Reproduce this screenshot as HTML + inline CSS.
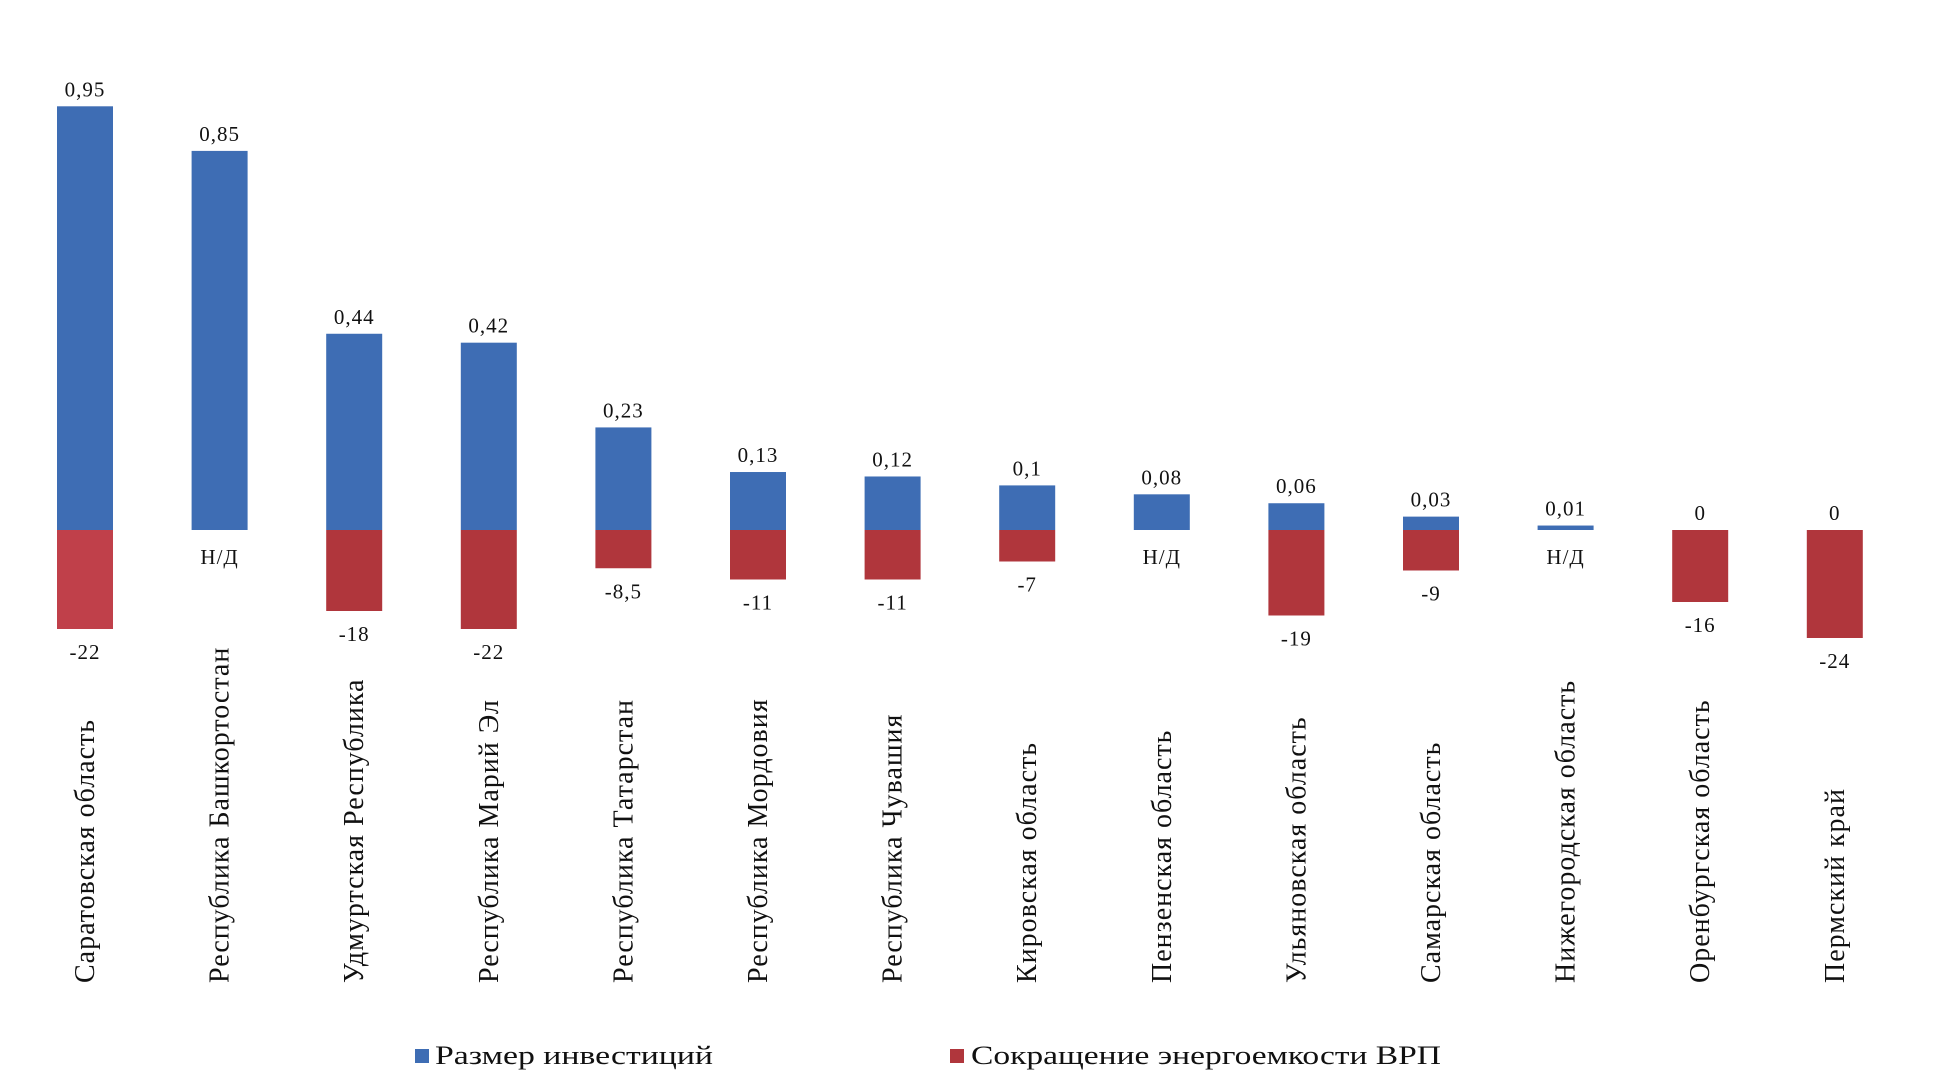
<!DOCTYPE html>
<html><head><meta charset="utf-8"><style>
html,body{margin:0;padding:0;background:#fff;}
svg{display:block;font-family:"Liberation Serif","Noto Serif CJK SC",serif;}
</style></head><body>
<svg id="chart" width="1954" height="1089" viewBox="0 0 1954 1089">
<g id="bars"></g>
<g id="labels"></g>
<g>
<rect x="415" y="1049" width="14" height="14" fill="#3e6db4"/>
<text x="435" y="1064" font-size="26" textLength="278" lengthAdjust="spacingAndGlyphs" fill="#111">Размер инвестиций</text>
<rect x="950" y="1049" width="14" height="14" fill="#b0363c"/>
<text x="971" y="1064" font-size="26" textLength="470" lengthAdjust="spacingAndGlyphs" fill="#111">Сокращение энергоемкости ВРП</text>
</g>
</svg>
<script>
const categories=["Саратовская область","Республика Башкортостан","Удмуртская Республика","Республика Марий Эл","Республика Татарстан","Республика Мордовия","Республика Чувашия","Кировская область","Пензенская область","Ульяновская область","Самарская область","Нижегородская область","Оренбургская область","Пермский край"];
const investment=[0.95,0.85,0.44,0.42,0.23,0.13,0.12,0.1,0.08,0.06,0.03,0.01,0,0];
const investLabels=["0,95","0,85","0,44","0,42","0,23","0,13","0,12","0,1","0,08","0,06","0,03","0,01","0","0"];
const energy=[-22,null,-18,-22,-8.5,-11,-11,-7,null,-19,-9,null,-16,-24];
const energyLabels=["-22","Н/Д","-18","-22","-8,5","-11","-11","-7","Н/Д","-19","-9","Н/Д","-16","-24"];
const NS="http://www.w3.org/2000/svg";
const zeroY=530, pxInv=446, pxEn=4.5, x0=85, step=134.6, bw=56;
function xc(i){return x0+i*step;}
function yInv(v){return zeroY-v*pxInv;}
function yEn(v){return zeroY-v*pxEn;}
const bars=document.getElementById('bars'), labels=document.getElementById('labels');
function mk(tag,attrs,parent){const e=document.createElementNS(NS,tag);for(const k in attrs)e.setAttribute(k,attrs[k]);parent.appendChild(e);return e;}
categories.forEach((c,i)=>{
  const x=xc(i);
  const v=investment[i];
  if(v>0){
    let y=yInv(v), h=zeroY-y; if(h<4){h=4;y=zeroY-4;}
    const r=mk('rect',{x:x-bw/2,y:y,width:bw,height:h,fill:'#3e6db4'},bars);
    
    
  }
  const tl=mk('text',{x:x,y:yInv(v)-10,'font-size':21,'text-anchor':'middle',fill:'#111','letter-spacing':1},labels);
  tl.textContent=investLabels[i];
  
  
  const e=energy[i];
  let ly;
  if(e!==null){
    const r=mk('rect',{x:x-bw/2,y:zeroY,width:bw,height:yEn(e)-zeroY,fill:i===0?'#c0404a':'#b0363c'},bars);
    
    
    ly=yEn(e)+30;
  } else ly=zeroY+34;
  const bl=mk('text',{x:x,y:ly,'font-size':21,'text-anchor':'middle',fill:'#111','letter-spacing':1},labels);
  bl.textContent=energyLabels[i];
  
  
  const cl=mk('text',{x:0,y:0,'font-size':28,'letter-spacing':1,'text-anchor':'start',fill:'#111',transform:'translate('+(x+9)+',983) rotate(-90)'},labels);
  cl.textContent=c;
  
  
});
</script>
</body></html>
